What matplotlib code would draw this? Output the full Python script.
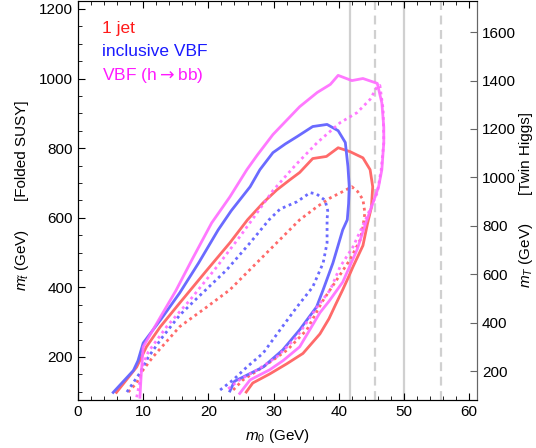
import numpy as np
import matplotlib
matplotlib.use("Agg")
import matplotlib.pyplot as plt

plt.rcParams['font.family'] = ['Liberation Sans', 'DejaVu Sans']
plt.rcParams['mathtext.fontset'] = 'custom'
plt.rcParams['mathtext.rm'] = 'Liberation Sans'
plt.rcParams['mathtext.it'] = 'Liberation Sans:italic'

# contours: (m0, mt) in GeV
jet_solid_m0 = [5.9, 9.0, 10.5, 12.6, 15.6, 19.8, 23.3, 26.0, 28.4, 30.5, 32.5, 34.0, 36.0, 38.1, 39.9,
                41.7, 43.7, 44.8, 45.2, 45.0, 44.4, 43.7, 42.2, 41.5, 40.6, 39.5, 38.5, 37.1, 34.5, 32.0,
                29.4, 26.8, 25.8]
jet_solid_mt = [98, 171, 229, 286, 355, 450, 528, 594, 643, 680, 709, 730, 770, 776, 801,
                790, 772, 738, 689, 630, 583, 520, 460, 430, 393, 350, 310, 266, 210, 180,
                151, 125, 99]

jet_dot_m0 = [7.7, 9.0, 10.0, 11.5, 15.6, 19.8, 23.3, 25.9, 29.9, 34.0, 36.7, 38.7, 40.6, 42.0, 42.9,
              43.7, 44.0, 43.7, 43.3, 41.7, 39.7, 37.5, 35.1, 32.1, 28.4, 25.3, 23.8]
jet_dot_mt = [99, 125, 163, 200, 287, 344, 393, 442, 517, 594, 632, 657, 675, 689, 675,
              652, 614, 574, 537, 479, 422, 360, 278, 220, 171, 134, 105]

vbf_solid_m0 = [5.4, 8.5, 9.2, 10.0, 12.8, 15.6, 18.5, 21.5, 23.5, 26.4, 27.9, 29.9, 31.8, 33.6,
                36.0, 38.2, 39.9, 41.0, 41.4, 41.6, 41.5, 41.3, 40.6, 39.1, 37.6, 36.6, 34.0, 31.4,
                28.4, 25.3, 24.0, 23.3]
vbf_solid_mt = [98, 161, 189, 240, 310, 384, 470, 565, 620, 689, 738, 787, 812, 833,
                862, 868, 850, 816, 747, 690, 640, 594, 565, 470, 393, 344, 278, 220,
                171, 142, 130, 102]

vbf_dot_m0 = [7.5, 9.5, 10.8, 13.0, 15.6, 18.0, 22.8, 26.4, 29.3, 31.0, 33.6, 35.6, 36.6, 37.9, 38.3,
              38.2, 38.2, 37.6, 36.0, 33.6, 31.0, 28.4, 25.9, 23.8, 21.8]
vbf_dot_mt = [99, 154, 200, 258, 320, 364, 450, 528, 594, 625, 646, 672, 668, 650, 620,
              594, 528, 470, 401, 344, 278, 211, 171, 134, 105]

hbb_solid_m0 = [9.5, 9.7, 10.0, 12.5, 15.0, 17.5, 20.5, 23.3, 25.9, 27.5, 29.9, 32.0, 34.0, 36.7,
                38.7, 39.9, 42.0, 43.7, 45.9, 46.6, 46.9, 46.9, 46.6, 46.1, 45.2, 44.3, 42.8, 40.6,
                38.5, 37.1, 34.0, 31.5, 29.4, 26.4, 24.8]
hbb_solid_mt = [84, 151, 229, 310, 390, 480, 585, 660, 738, 780, 839, 880, 919, 960,
                983, 1009, 994, 1000, 986, 930, 860, 816, 738, 689, 640, 594, 508, 415,
                360, 327, 229, 190, 163, 134, 95]

hbb_dot_m0 = [9.0, 9.5, 9.8, 10.8, 13.6, 17.2, 21.3, 24.8, 26.7, 29.9, 33.3, 36.7, 40.2, 42.8, 44.8,
              45.9, 46.3, 46.8, 46.9, 46.5, 45.9, 44.3, 42.2, 40.2, 38.7, 36.7, 33.6, 30.5, 27.5,
              24.8, 22.8]
hbb_dot_mt = [84, 130, 171, 215, 287, 364, 459, 545, 594, 678, 750, 816, 873, 902, 940,
              977, 980, 911, 816, 738, 672, 603, 517, 459, 393, 344, 258, 200, 163,
              134, 105]

solid_vlines = [41.7, 50.0]
dashed_vlines = [45.5, 55.6]

labels = ["1 jet", "inclusive VBF", r"VBF (h${\rightarrow}$bb)"]
label_colors = ["#ff1a1a", "#1a1aff", "#ff1aff"]

fig = plt.figure(figsize=(5.36, 4.48), dpi=100)
ax = fig.add_axes([0.1455, 0.107, 0.7445, 0.891])

for v in solid_vlines:
    ax.axvline(v, color="#d0d0d0", lw=1.6, zorder=1)
for v in dashed_vlines:
    ax.axvline(v, color="#d0d0d0", lw=1.6, ls=(0, (4, 2.5)), zorder=1)

red, blue, mag = "#ff6a6a", "#6a6aff", "#ff6aff"
dot = (0, (1, 1.3))
lw = 2.0
ax.plot(jet_solid_m0, jet_solid_mt, color=red, lw=lw)
ax.plot(jet_dot_m0, jet_dot_mt, color=red, lw=lw, ls=dot)
ax.plot(vbf_solid_m0, vbf_solid_mt, color=blue, lw=lw)
ax.plot(vbf_dot_m0, vbf_dot_mt, color=blue, lw=lw, ls=dot)
ax.plot(hbb_solid_m0, hbb_solid_mt, color=mag, lw=lw, alpha=0.9)
ax.plot(hbb_dot_m0, hbb_dot_mt, color=mag, lw=lw, ls=dot, alpha=0.9)

ax.set_xlim(0, 61.2)
ax.set_ylim(76, 1223)
ax.set_xticks(np.arange(0, 61, 10))
ax.set_xticks(np.arange(0, 61, 2), minor=True)
ax.set_yticks(np.arange(200, 1201, 200))
ax.set_yticks(np.arange(100, 1201, 50), minor=True)
ax.tick_params(which="both", direction="in", top=True, right=False, labelsize=11)
ax.tick_params(which="major", length=5)
ax.tick_params(which="minor", length=3)
ax.spines["top"].set_color("#666666")
ax.spines["right"].set_color("#666666")

ax2 = ax.twinx()
ax2.set_ylim(80, 1729)
ax2.set_yticks(np.arange(200, 1601, 200))
ax2.tick_params(direction="in", length=5, labelsize=11, color="#666666")
ax2.spines["right"].set_color("#666666")

ax.set_xlabel(r"$m_0$ (GeV)", fontsize=11, labelpad=6)

for txt, c, yy in zip(labels, label_colors, [0.93, 0.872, 0.812]):
    ax.text(0.06, yy, txt, color=c, fontsize=12.5, transform=ax.transAxes, va="center",
            math_fontfamily="dejavusans")

fig.text(0.041, 0.42, r"$m_{\tilde{t}}$ (GeV)", rotation=90, ha="center", va="center", fontsize=11)
fig.text(0.041, 0.663, "[Folded SUSY]", rotation=90, ha="center", va="center", fontsize=11)
fig.text(0.982, 0.43, r"$m_T$ (GeV)", rotation=90, ha="center", va="center", fontsize=11)
fig.text(0.982, 0.658, "[Twin Higgs]", rotation=90, ha="center", va="center", fontsize=11)

fig.savefig("out.png", dpi=100)
